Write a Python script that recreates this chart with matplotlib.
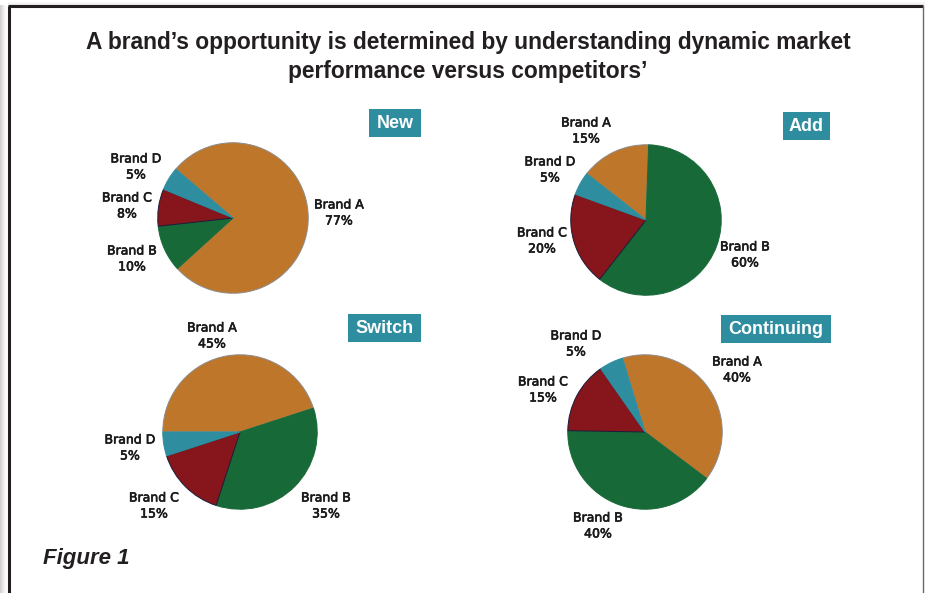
import matplotlib

matplotlib.use("Agg")
import matplotlib.pyplot as plt
import matplotlib.patheffects as pe
import numpy as np
from matplotlib.patches import Rectangle

W, H = 925, 593

# data
brands = ["Brand A", "Brand B", "Brand C", "Brand D"]
segments = ["New", "Add", "Switch", "Continuing"]
new_share = [77, 10, 8, 5]
add_share = [15, 60, 20, 5]
switch_share = [45, 35, 15, 5]
continuing_share = [40, 40, 15, 5]

title_lines = [
    "A brand\u2019s opportunity is determined by understanding dynamic market",
    "performance versus competitors\u2019",
]
caption = "Figure 1"

colors = ["#be762b", "#176937", "#86161b", "#2e8e9f"]
edges = ["#8c8c8c", "#176937", "#1c1a3a", "#2e8e9f"]
teal = "#2e8e9f"
ink = "#231f20"

# layout in pixels: pie centre, radius, start angle, tag box, label centres (A, B, C, D)
layout = {
    "New": dict(c=(233, 218), r=76, start=139.5, box=(369, 109, 421, 137),
                labels=[(339, 213), (132, 259), (127, 206), (136, 167)]),
    "Add": dict(c=(646, 220), r=76, start=142, box=(783, 112, 830, 140),
                labels=[(586, 131), (745, 255), (542, 241), (550, 170)]),
    "Switch": dict(c=(240, 432), r=78, start=180, box=(348, 314, 421, 342),
                   labels=[(212, 336), (326, 506), (154, 506), (130, 448)]),
    "Continuing": dict(c=(645, 432), r=78, start=107, box=(721, 315, 831, 343),
                       labels=[(737, 370), (598, 526), (543, 390), (576, 344)]),
}
shares = dict(zip(segments, [new_share, add_share, switch_share, continuing_share]))

LABEL_FONT = ["Liberation Sans", "DejaVu Sans"]


def fx(x):
    return x / W


def fy(y):
    return 1 - y / H


fig = plt.figure(figsize=(W / 100, H / 100), dpi=100)
fig.patch.set_facecolor("white")

# soft shadow left and above the frame
shade = fig.add_axes([0, 0, 1, 1], zorder=-5)
shade.set_axis_off()
shade.set_xlim(0, W)
shade.set_ylim(H, 0)
xs = np.linspace(0, 1, 8)[None, :]
shade.imshow(1 - 0.18 * xs[:, ::-1] ** 1.5, extent=(0, 8, H, 5), cmap="gray", vmin=0, vmax=1, aspect="auto")
ys = np.linspace(0, 1, 5)[:, None]
shade.imshow(1 - 0.08 * ys ** 1.5, extent=(8, W, 5, 0), cmap="gray", vmin=0, vmax=1, aspect="auto")
shade.plot([9, 9], [6, H], color=ink, lw=2.2, solid_capstyle="butt")
shade.plot([8, 923], [6, 6], color=ink, lw=2.2, solid_capstyle="butt")
shade.plot([923, 923], [6, H], color="#6a6a6a", lw=1.0)

for i, line in enumerate(title_lines):
    fig.text(fx(468), fy(49 + 29 * i), line, ha="center", va="baseline",
             fontsize=16.4, fontweight="bold", color=ink, family=LABEL_FONT)

fig.text(fx(43), fy(564), caption, ha="left", va="baseline", fontsize=16,
         fontweight="bold", fontstyle="italic", color=ink, family=LABEL_FONT)

thicken = [pe.withStroke(linewidth=0.45, foreground="#1a1a1a")]

for seg in segments:
    lay = layout[seg]
    cx, cy = lay["c"]
    r = lay["r"]
    ax = fig.add_axes([fx(cx - r), fy(cy + r), 2 * r / W, 2 * r / H])
    wedges, _ = ax.pie(shares[seg], colors=colors, startangle=lay["start"],
                       counterclock=False, radius=1,
                       wedgeprops=dict(linewidth=0.7))
    for w, ec in zip(wedges, edges):
        w.set_edgecolor(ec)
    ax.set_xlim(-1.01, 1.01)
    ax.set_ylim(-1.01, 1.01)
    ax.set_aspect("equal")
    ax.set_axis_off()

    for name, val, (lx, ly) in zip(brands, shares[seg], lay["labels"]):
        fig.text(fx(lx), fy(ly), f"{name}\n{val}%", ha="center", va="center",
                 multialignment="center", fontsize=9, fontweight="normal",
                 color="#1a1a1a", linespacing=1.3, family="DejaVu Sans",
                 path_effects=thicken)

    x0, y0, x1, y1 = lay["box"]
    fig.patches.append(Rectangle((fx(x0), fy(y1)), (x1 - x0) / W, (y1 - y0) / H,
                                 transform=fig.transFigure, facecolor=teal,
                                 edgecolor="none"))
    fig.text(fx((x0 + x1) / 2), fy((y0 + y1) / 2 + 0.5), seg, ha="center", va="center",
             fontsize=13, fontweight="bold", color="white", family=LABEL_FONT)

fig.savefig("out.png", dpi=100)
